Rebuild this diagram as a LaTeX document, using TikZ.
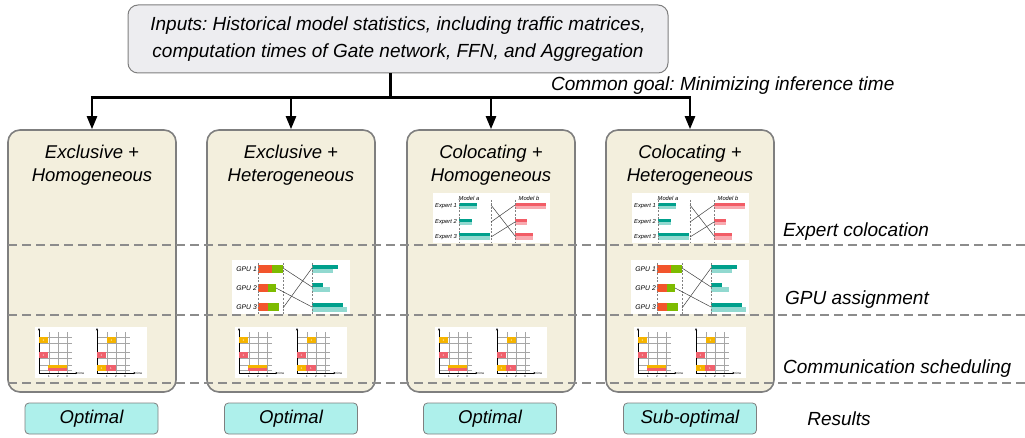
\documentclass[tikz,border=0pt]{standalone}
\usepackage{fontspec}
\setmainfont{Liberation Sans}
\usetikzlibrary{arrows.meta}
\frenchspacing
\definecolor{inputfill}{HTML}{EDEDF0}
\definecolor{stagefill}{HTML}{F3EFDD}
\definecolor{resfill}{HTML}{AEF0EB}
\definecolor{edgegray}{HTML}{7F7F7F}
\definecolor{sepgray}{HTML}{8C8C8C}
\definecolor{tealD}{HTML}{00A08C}
\definecolor{tealL}{HTML}{92D9D0}
\definecolor{redD}{HTML}{F25C66}
\definecolor{redL}{HTML}{F8AAB0}
\definecolor{gpured}{HTML}{F2552C}
\definecolor{gpugreen}{HTML}{7DBB00}
\definecolor{slotyel}{HTML}{F5B400}
\definecolor{slotred}{HTML}{F0606C}

% expert colocation sketch (two models, three experts)
\newcommand\expertfig[1]{%
\begin{scope}[xshift=#1]
  \fill[white] (433,193) rectangle (550,243);
  \node[tinytxt] at (469,198) {Model a};
  \node[tinytxt] at (529,198) {Model b};
  \node[tinytxt,anchor=east] at (457,206) {Expert 1};
  \node[tinytxt,anchor=east] at (457,222) {Expert 2};
  \node[tinytxt,anchor=east] at (457,237) {Expert 3};
  \fill[tealD] (459,203) rectangle (477,206);
  \fill[tealL] (459,206) rectangle (477,209.5);
  \fill[tealD] (459,219) rectangle (472,222);
  \fill[tealL] (459,222) rectangle (472,225.5);
  \fill[tealD] (459,233) rectangle (490,236.5);
  \fill[tealL] (459,236.5) rectangle (490,240);
  \fill[redD] (515,203) rectangle (546,206);
  \fill[redL] (515,206) rectangle (546,209.5);
  \fill[redD] (515,219) rectangle (527,222);
  \fill[redL] (515,222) rectangle (527,225.5);
  \fill[redD] (515,233) rectangle (533,236.5);
  \fill[redL] (515,236.5) rectangle (533,240);
  \foreach \xx in {459,491,515} \draw[guide] (\xx,200) -- (\xx,243);
  \draw[cross] (491,205) -- (515,236);
  \draw[cross] (491,222) -- (515,205);
  \draw[cross] (491,237) -- (515,222);
\end{scope}}

% GPU assignment sketch (three GPUs)
\newcommand\gpufig[1]{%
\begin{scope}[xshift=#1]
  \fill[white] (232,260) rectangle (350,314);
  \node[smalltxt,anchor=east] at (257,269) {GPU 1};
  \node[smalltxt,anchor=east] at (257,288) {GPU 2};
  \node[smalltxt,anchor=east] at (257,307) {GPU 3};
  \fill[gpured] (258,265) rectangle (272,273);
  \fill[gpugreen] (272,265) rectangle (283,273);
  \fill[gpured] (258,284) rectangle (268,292);
  \fill[gpugreen] (268,284) rectangle (276,292);
  \fill[gpured] (258,303) rectangle (268,311);
  \fill[gpugreen] (268,303) rectangle (279,311);
  \fill[tealD] (312,265) rectangle (338,269);
  \fill[tealL] (312,269) rectangle (333,273);
  \fill[tealD] (312,283) rectangle (323,287);
  \fill[tealL] (312,287) rectangle (330,292);
  \fill[tealD] (312,303) rectangle (343,307);
  \fill[tealL] (312,307) rectangle (347,312);
  \foreach \xx in {258,283,312} \draw[guide] (\xx,263) -- (\xx,314);
  \draw[cross] (283,268) -- (312,287);
  \draw[cross] (283,308) -- (312,268);
  \draw[cross] (276,288) -- (312,307);
\end{scope}}

% one time chart with three lanes; #1 = origin x
\newcommand\timeaxes[1]{%
  \foreach \yy in {337,343,352,358,365,370.5} \draw[lane] (#1,\yy) -- (#1+33,\yy);
  \foreach \tt/\kk in {10/1,19/2,28/3} {
    \draw[lane] (#1+\tt,332) -- (#1+\tt,373);
    \node[microtxt] at (#1+\tt,376) {\kk};}
  \draw[axisline] (#1,373) -- (#1,328);
  \draw[axisline] (#1,373) -- (#1+39,373);
  \node[microtxt,anchor=west] at (#1+39.5,373) {time};}
\newcommand\slot[5]{%
  \fill[#1] (#2,#3) rectangle (#4,#5);
  \node[microtxt,text=white] at ({(#2+#4)/2},{(#3+#5)/2}) {1};}

% communication scheduling sketch: two schedules side by side
\newcommand\schedfig[1]{%
\begin{scope}[xshift=#1]
  \fill[white] (35,327) rectangle (147,378);
  \timeaxes{39}
  \slot{slotyel}{39}{337}{48}{343}
  \slot{slotred}{39}{352}{48}{358}
  \fill[slotyel] (48,365) rectangle (67,368);
  \fill[slotred] (48,368) rectangle (67,371);
  \timeaxes{97}
  \slot{slotyel}{107}{337}{116}{343}
  \slot{slotred}{97}{352}{106}{358}
  \slot{slotyel}{97}{365}{106}{371}
  \slot{slotred}{106}{365}{116}{371}
\end{scope}}

\begin{document}
\begin{tikzpicture}[x=1pt,y=-1pt,
  inbox/.style={draw=edgegray,line width=1pt,fill=inputfill,rounded corners=10pt,
    minimum width=540pt,minimum height=68pt,align=center,
    font=\itshape\fontsize{19}{27}\selectfont},
  stagebox/.style={draw=edgegray,line width=1.6pt,fill=stagefill,rounded corners=12pt,
    minimum width=168pt,minimum height=262pt},
  ttl/.style={align=center,font=\itshape\fontsize{18.5}{23}\selectfont},
  lbl/.style={font=\itshape\fontsize{19}{22}\selectfont,inner sep=0pt},
  resbox/.style={draw=edgegray,line width=0.8pt,fill=resfill,rounded corners=4pt,
    minimum width=133pt,minimum height=31pt,font=\itshape\fontsize{18.5}{22}\selectfont},
  bus/.style={line width=3pt},
  feed/.style={line width=2.4pt,-{Triangle[width=10pt,length=13pt]}},
  dashsep/.style={draw=sepgray,line width=1.3pt,dash pattern=on 9pt off 5pt},
  guide/.style={draw=gray,line width=0.4pt,dash pattern=on 2pt off 1.5pt},
  cross/.style={draw=black!75,line width=0.5pt},
  lane/.style={draw=gray!70,line width=0.4pt},
  axisline/.style={line width=0.5pt,-{Stealth[length=2.5pt,width=2pt]}},
  tinytxt/.style={font=\itshape\fontsize{5.8}{6}\selectfont,inner sep=0pt},
  smalltxt/.style={font=\itshape\fontsize{6.8}{7}\selectfont,inner sep=0pt},
  microtxt/.style={font=\fontsize{3}{3}\selectfont,inner sep=0pt},
]
\useasboundingbox (0,0) rectangle (1025,438);

% inputs
\node[inbox] (inp) at (398,39) {Inputs: Historical model statistics, including traffic matrices,\\computation times of Gate network, FFN, and Aggregation};

% the four problem settings
\node[stagebox] (b1) at (92,261) {};
\node[stagebox] (b2) at (291,261) {};
\node[stagebox] (b3) at (491,261) {};
\node[stagebox] (b4) at (690,261) {};
\node[ttl] (t1) at (92,165) {Exclusive +\\Homogeneous};
\node[ttl] (t2) at (291,165) {Exclusive +\\Heterogeneous};
\node[ttl] (t3) at (491,165) {Colocating +\\Homogeneous};
\node[ttl] (t4) at (690,165) {Colocating +\\Heterogeneous};

% distribution bus
\coordinate (hub) at (390,98);
\coordinate (j1) at (92,98);
\coordinate (j2) at (291,98);
\coordinate (j3) at (491,98);
\coordinate (j4) at (690,98);
\draw[bus] (inp.south -| hub) -- (hub);
\draw[bus] ([xshift=-1.2pt]j1) -- ([xshift=1.2pt]j4);
\foreach \k in {1,2,3,4} \draw[feed] (j\k) -- (b\k.north);
\node[lbl,anchor=west] (goal) at (551,86) {Common goal: Minimizing inference time};

% stage sketches
\expertfig{0}
\expertfig{199}
\gpufig{0}
\gpufig{399}
\schedfig{0}
\schedfig{200}
\schedfig{400}
\schedfig{599}

% stage separators
\draw[dashsep] (8,245) -- (1025,245);
\draw[dashsep] (8,315) -- (1025,315);
\draw[dashsep] (8,383) -- (1025,383);
\node[lbl,anchor=west] (s1) at (783,232) {Expert colocation};
\node[lbl,anchor=west] (s2) at (785,300) {GPU assignment};
\node[lbl,anchor=west] (s3) at (783,369) {Communication scheduling};

% results
\node[resbox] (r1) at (91.5,418.5) {Optimal};
\node[resbox] (r2) at (291,418.5) {Optimal};
\node[resbox] (r3) at (490,418.5) {Optimal};
\node[resbox] (r4) at (690,418.5) {Sub-optimal};
\node[lbl] (res) at (839,419) {Results};
\end{tikzpicture}
\end{document}
